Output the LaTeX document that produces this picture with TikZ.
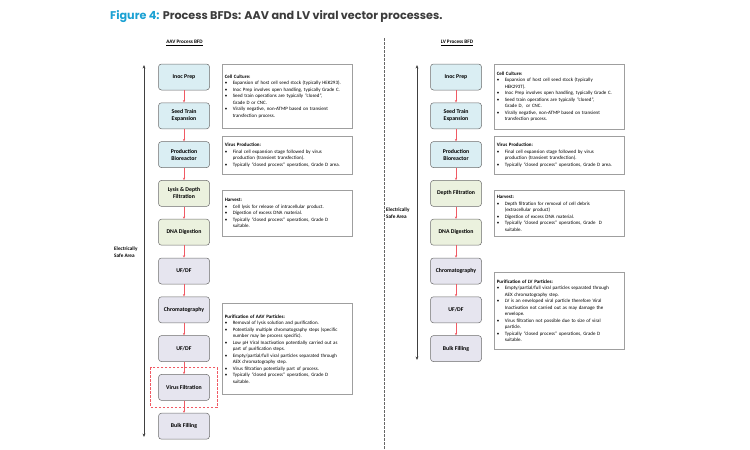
\documentclass[tikz,border=0pt]{standalone}
\usepackage{fontspec}
\setmainfont{Carlito}
\newfontfamily\headfont{Poppins}
\usetikzlibrary{arrows.meta,positioning,fit}
\definecolor{figblue}{HTML}{1BA1D3}
\definecolor{titlegray}{HTML}{3C3C3C}
\definecolor{boxblue}{HTML}{DAEEF3}
\definecolor{boxgreen}{HTML}{EBF1DE}
\definecolor{boxlav}{HTML}{E6E5EF}
\definecolor{flowred}{HTML}{F05A64}
\newcommand{\bul}{\par\hangindent=8pt\hangafter=1\noindent\makebox[8pt][l]{\textbullet}}

\begin{document}
\begin{tikzpicture}[x=1pt,y=-1pt,>=Stealth,
  proc/.style={draw=gray!85!black,line width=0.5pt,rounded corners=3pt,minimum width=51pt,minimum height=26pt,inner sep=1pt,align=center,font=\fontsize{5.8}{7}\selectfont\bfseries},
  blu/.style={proc,fill=boxblue},
  grn/.style={proc,fill=boxgreen},
  lav/.style={proc,fill=boxlav},
  info/.style={draw=gray!75,line width=0.6pt,anchor=north west,text width=125pt,inner xsep=2.5pt,inner ysep=0pt,align=left,font=\fontsize{4.95}{6.5}\selectfont},
  flow/.style={-{Stealth[length=2.5pt,width=2.2pt]},flowred,line width=0.45pt},
  span/.style={{Stealth[length=3.5pt,width=2.8pt]}-{Stealth[length=3.5pt,width=2.8pt]},black!75,line width=0.6pt},
  bfd/.style={font=\fontsize{5.2}{6.5}\selectfont\bfseries,inner sep=0pt},
  node distance=12.3pt]
\useasboundingbox (0,0) rectangle (750,450);

% title
\node[anchor=west,inner sep=0pt,font=\headfont\fontsize{11.2}{13}\selectfont\bfseries] (title) at (110,17)
  {\textcolor{figblue}{Figure 4:} \textcolor{titlegray}{Process BFDs: AAV and LV viral vector processes.}};

% divider
\draw[gray!80!black,dash pattern=on 2.5pt off 1.5pt,line width=0.5pt] (384,38) -- (384,450);

% ---------------- AAV ----------------
\node[bfd] (aavhead) at (184.5,43) {\underline{AAV Process BFD}};

\node[blu] (ip1) at (184,77) {Inoc Prep};
\node[blu,below=of ip1] (st1) {Seed Train\\Expansion};
\node[blu,below=of st1] (pb1) {Production\\Bioreactor};
\node[grn,below=of pb1] (ly1) {Lysis \& Depth\\Filtration};
\node[grn,below=of ly1] (dn1) {DNA Digestion};
\node[lav,below=of dn1] (uf1) {UF/DF};
\node[lav,below=of uf1] (ch1) {Chromatography};
\node[lav,below=of ch1] (ud1) {UF/DF};
\node[lav,below=of ud1] (vf1) {Virus Filtration};
\node[lav,below=of vf1] (bf1) {Bulk Filling};

\foreach \a/\b in {ip1/st1,st1/pb1,pb1/ly1,ly1/dn1,dn1/uf1,uf1/ch1,ch1/ud1,ud1/vf1,vf1/bf1}
  \draw[flow] (\a) -- (\b);

\node[draw=flowred,dash pattern=on 2.5pt off 1.5pt,line width=0.6pt,fit=(vf1),inner xsep=7.5pt,inner ysep=6.5pt] (vfzone) {};

\coordinate (aavtop) at (144,65);
\coordinate (aavbot) at (144,437);
\draw[span] (aavtop) -- (aavbot);
\node[bfd,anchor=west,align=left] (aavsafe) at (114,252) {Electrically\\Safe Area};

\node[info,minimum height=64pt] (cc1) at (222,64) {\textbf{Cell Culture:}
\bul Expansion of host cell seed stock (typically HEK293).
\bul Inoc Prep involves open handling, typically Grade C.
\bul Seed train operations are typically ``closed'',\newline Grade D or CNC.
\bul Virally negative, non-ATMP based on transient\newline transfection process.\par};

\node[info,minimum height=38pt] (vp1) at (222,136) {\textbf{Virus Production:}
\bul Final cell expansion stage followed by virus\newline production (transient transfection).
\bul Typically ``closed process'' operations, Grade D area.\par};

\node[info,minimum height=46pt] (hv1) at (222,190) {\textbf{Harvest:}
\bul Cell lysis for release of intracellular product.
\bul Digestion of excess DNA material.
\bul Typically ``closed process'' operations, Grade D\newline suitable.\par};

\node[info,minimum height=91pt] (pu1) at (222,303) {\textbf{Purification of AAV Particles:}
\bul Removal of lysis solution and purification.
\bul Potentially multiple chromatography steps (specific\newline number may be process specific).
\bul Low pH Viral Inactivation potentially carried out as\newline part of purification steps.
\bul Empty/partial/full viral particles separated through\newline AEX chromatography step.
\bul Virus filtration potentially part of process.
\bul Typically ``closed process'' operations, Grade D\newline suitable.\par};

% ---------------- LV ----------------
\node[bfd] (lvhead) at (457,43) {\underline{LV Process BFD}};

\node[blu] (ip2) at (456,77) {Inoc Prep};
\node[blu,below=of ip2] (st2) {Seed Train\\Expansion};
\node[blu,below=of st2] (pb2) {Production\\Bioreactor};
\node[grn,below=of pb2] (df2) {Depth Filtration};
\node[grn,below=of df2] (dn2) {DNA Digestion};
\node[lav,below=of dn2] (ch2) {Chromatography};
\node[lav,below=of ch2] (uf2) {UF/DF};
\node[lav,below=of uf2] (bf2) {Bulk Filling};

\foreach \a/\b in {ip2/st2,st2/pb2,pb2/df2,df2/dn2,dn2/ch2,ch2/uf2,uf2/bf2}
  \draw[flow] (\a) -- (\b);

\coordinate (lvtop) at (417,65);
\coordinate (lvbot) at (417,360);
\draw[span] (lvtop) -- (lvbot);
\node[bfd,anchor=west,align=left] (lvsafe) at (386,213) {Electrically\\Safe Area};

\node[info,minimum height=65pt] (cc2) at (494,64) {\textbf{Cell Culture:}
\bul Expansion of host cell seed stock (typically\newline HEK293T).
\bul Inoc Prep involves open handling, typically Grade C.
\bul Seed train operations are typically ``closed'',\newline Grade D,\ \ or CNC.
\bul Virally negative, non-ATMP based on transient\newline transfection process.\par};

\node[info,minimum height=38pt] (vp2) at (494,136) {\textbf{Virus Production:}
\bul Final cell expansion stage followed by virus\newline production (transient transfection).
\bul Typically ``closed process'' operations, Grade D area.\par};

\node[info,minimum height=46pt] (hv2) at (494,190) {\textbf{Harvest:}
\bul Depth filtration for removal of cell debris\newline (extracellular product)
\bul Digestion of excess DNA material.
\bul Typically ``closed process'' operations, Grade\ \ D\newline suitable.\par};

\node[info,minimum height=77pt] (pu2) at (494,272) {\textbf{Purification of LV Particles:}
\bul Empty/partial/full viral particles separated through\newline AEX chromatography step.
\bul LV is an enveloped viral particle therefore Viral\newline Inactivation not carried out as may damage the\newline envelope.
\bul Virus filtration not possible due to size of viral\newline particle.
\bul Typically ``closed process'' operations, Grade D\newline suitable.\par};
\end{tikzpicture}
\end{document}
